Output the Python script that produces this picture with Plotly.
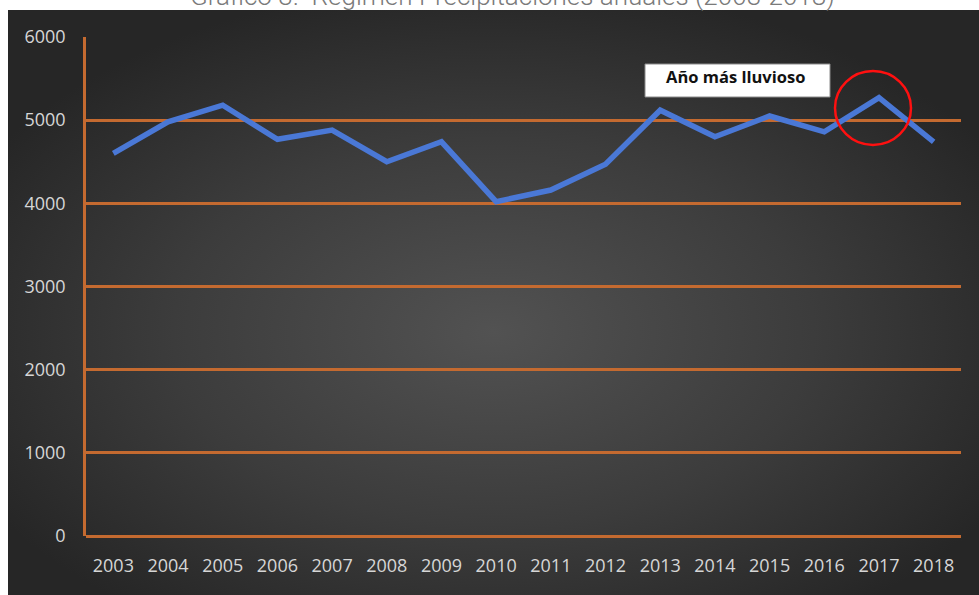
import base64
import plotly.graph_objects as go

years = [str(y) for y in range(2003, 2019)]
precip = [4600, 4980, 5180, 4770, 4880, 4500, 4740, 4020, 4160, 4470,
          5120, 4800, 5050, 4860, 5270, 4740]
y_ticks = [0, 1000, 2000, 3000, 4000, 5000, 6000]
title_text = "Gráfico 3.  Régimen Precipitaciones anuales (2003-2018)"
note_text = "<b>Año más lluvioso</b>"

W, H = 979, 595
L, R, T, B = 86, 18, 37, 59
pw, ph = W - L - R, H - T - B

def px_x(p):
    return (p - L) / pw

def px_y(p):
    return (H - B - p) / ph

svg = """<svg xmlns='http://www.w3.org/2000/svg' width='971' height='585' preserveAspectRatio='none'>
<defs><radialGradient id='g' cx='50%' cy='55%' r='60%'>
<stop offset='0%' stop-color='#525252'/>
<stop offset='55%' stop-color='#3c3c3c'/>
<stop offset='100%' stop-color='#262626'/>
</radialGradient></defs>
<rect width='971' height='585' fill='url(#g)'/></svg>"""
bg_uri = "data:image/svg+xml;base64," + base64.b64encode(svg.encode()).decode()

fig = go.Figure()
fig.add_trace(go.Scatter(
    x=years, y=precip, mode="lines",
    line=dict(color="#4a78d6", width=5.5),
    hoverinfo="x+y", showlegend=False,
))

fig.add_layout_image(dict(
    source=bg_uri, xref="paper", yref="paper",
    x=px_x(8), y=px_y(10), sizex=px_x(979) - px_x(8), sizey=px_y(10) - px_y(595),
    xanchor="left", yanchor="top", sizing="stretch", layer="below",
))

grid_col = "#c46a30"
tick_font = dict(family="Open Sans", size=18, color="#d6d6d6")
fig.update_xaxes(
    type="category", range=[-0.5, 15.5], showgrid=False, zeroline=False,
    showline=False, ticks="outside", ticklen=13, tickcolor="rgba(0,0,0,0)",
    tickfont=tick_font,
)
fig.update_yaxes(
    range=[0, 6000], tickvals=y_ticks, showgrid=True, gridcolor=grid_col,
    gridwidth=2.5, zeroline=True, zerolinecolor=grid_col, zerolinewidth=2.5,
    showline=True, linecolor=grid_col, linewidth=2.5,
    ticks="outside", ticklen=14, tickcolor="rgba(0,0,0,0)",
    tickfont=tick_font,
)

# annotation box
fig.add_shape(
    type="rect", xref="paper", yref="paper",
    x0=px_x(645), x1=px_x(830), y0=px_y(97), y1=px_y(64),
    fillcolor="#ffffff", line=dict(color="#8a8a8a", width=1), layer="above",
)
fig.add_annotation(
    xref="paper", yref="paper", x=px_x(735), y=px_y(77),
    text=note_text, showarrow=False, xanchor="center", yanchor="middle",
    font=dict(family="Open Sans", size=16.5, color="#111111"),
)

# red circle
fig.add_shape(
    type="circle", xref="paper", yref="paper",
    x0=px_x(835), x1=px_x(911), y0=px_y(145), y1=px_y(71),
    line=dict(color="#ff1010", width=2.5),
)

# title (cut off at the top, as in the reference)
fig.add_annotation(
    xref="paper", yref="paper", x=px_x(512), y=px_y(-4),
    text=title_text, showarrow=False, xanchor="center", yanchor="middle",
    font=dict(family="Roboto", size=26, color="#7a7a7a", weight=300),
)

fig.update_layout(
    width=W, height=H,
    margin=dict(l=L, r=R, t=T, b=B),
    paper_bgcolor="#ffffff", plot_bgcolor="rgba(0,0,0,0)",
)

fig.write_html("out.html", config={"displayModeBar": False},
               post_script="document.body.style.margin='0px';")
